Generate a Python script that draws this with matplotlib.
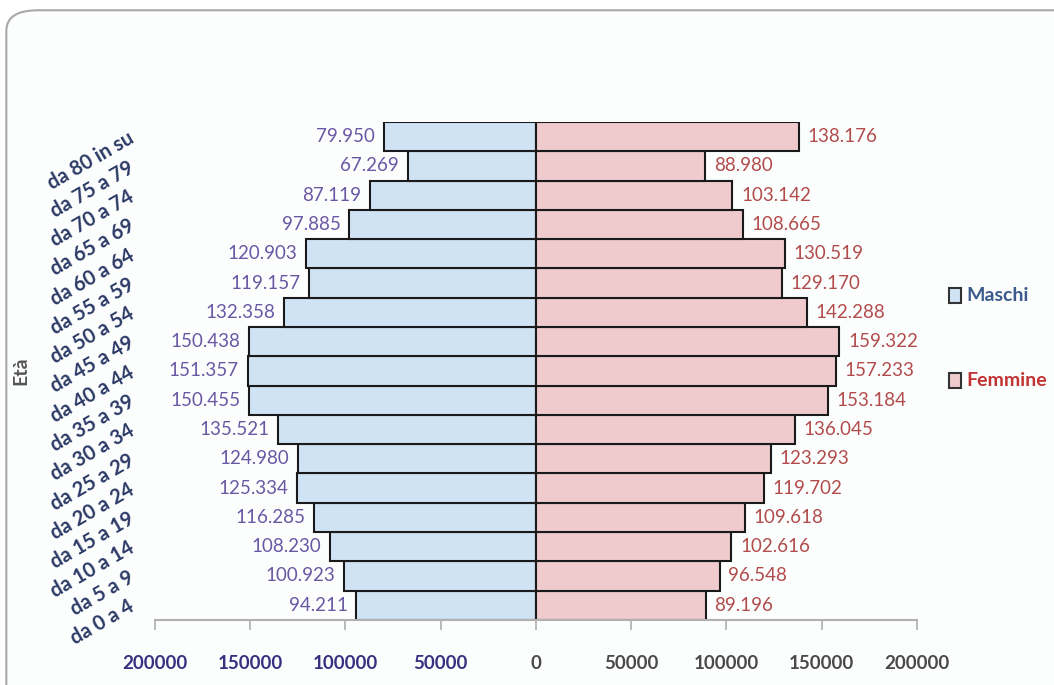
import matplotlib.pyplot as plt
from matplotlib.patches import FancyBboxPatch, Rectangle

# piramide delle età, maschi a sinistra e femmine a destra

plt.rcParams['font.family'] = ['Lato', 'DejaVu Sans']

eta = ["da 0 a 4", "da 5 a 9", "da 10 a 14", "da 15 a 19", "da 20 a 24",
       "da 25 a 29", "da 30 a 34", "da 35 a 39", "da 40 a 44", "da 45 a 49",
       "da 50 a 54", "da 55 a 59", "da 60 a 64", "da 65 a 69", "da 70 a 74",
       "da 75 a 79", "da 80 in su"]
maschi = [94211, 100923, 108230, 116285, 125334, 124980, 135521, 150455, 151357,
          150438, 132358, 119157, 120903, 97885, 87119, 67269, 79950]
femmine = [89196, 96548, 102616, 109618, 119702, 123293, 136045, 153184, 157233,
           159322, 142288, 129170, 130519, 108665, 103142, 88980, 138176]
tick_valori = [-200000, -150000, -100000, -50000, 0, 50000, 100000, 150000, 200000]
tick_testi = ["200000", "150000", "100000", "50000", "0", "50000", "100000", "150000", "200000"]

col_m = "#d0e3f5"
col_f = "#f0cbcd"
testo_m = "#6a58a4"
testo_f = "#b24c4c"


def fmt(v):
    return f"{v:,}".replace(",", ".")


fig = plt.figure(figsize=(10.54, 6.85), dpi=100)
fig.patch.set_facecolor("white")

# cornice arrotondata
cornice = FancyBboxPatch((0.006, -0.05), 1.05, 1.035,
                         boxstyle="round,pad=0,rounding_size=0.03",
                         transform=fig.transFigure, facecolor="#fcfdfd",
                         edgecolor="#a8a8a8", linewidth=1.5, zorder=-5)
fig.patches.append(cornice)

ax = fig.add_axes([0.147, 0.095, 0.723, 0.727])
ax.set_facecolor("none")
ax.set_zorder(2)

y = list(range(len(eta)))
neg_m = [-v for v in maschi]
ax.barh(y, neg_m, height=1.0, color=col_m, edgecolor="#1a1a1a", linewidth=1.5)
ax.barh(y, femmine, height=1.0, color=col_f, edgecolor="#1a1a1a", linewidth=1.5)

for i in y:
    ax.text(-maschi[i] - 4500, i, fmt(maschi[i]), ha="right", va="center",
            color=testo_m, fontsize=13.5)
    ax.text(femmine[i] + 4500, i, fmt(femmine[i]), ha="left", va="center",
            color=testo_f, fontsize=13.5)

ax.set_xlim(-200000, 200000)
ax.set_ylim(-0.5, len(eta) - 0.5)

ax.set_xticks(tick_valori)
ax.set_xticklabels(tick_testi, fontsize=13.5, fontweight="bold")
for i, lab in enumerate(ax.get_xticklabels()):
    lab.set_color("#3a2f80" if i < 4 else "#4a4a4a")
ax.tick_params(axis="x", length=7, width=1.2, color="#b0b0b0", pad=18)

ax.set_yticks(y)
ax.set_yticklabels(eta, fontsize=14.5, fontweight="bold", color="#2c3a66",
                   rotation=30, ha="right", va="center", rotation_mode="anchor")
ax.tick_params(axis="y", length=0, pad=16)

for s in ["top", "right", "left"]:
    ax.spines[s].set_visible(False)
ax.spines["bottom"].set_color("#b0b0b0")
ax.spines["bottom"].set_linewidth(1.5)

ax.set_ylabel("Età", fontsize=14, fontweight="bold", color="#555555")
ax.yaxis.set_label_coords(-0.165, 0.5)

# legenda manuale
for yy, nome, col, fill in [(0.568, "Maschi", "#3c5a8c", col_m),
                            (0.445, "Femmine", "#c03434", col_f)]:
    fig.patches.append(Rectangle((0.900, yy - 0.011), 0.0115, 0.022,
                                 transform=fig.transFigure, facecolor=fill,
                                 edgecolor="#333333", linewidth=1.5, zorder=3))
    fig.text(0.917, yy, nome, fontsize=14, color=col, va="center", ha="left",
             fontweight="bold")

plt.savefig("out.png", dpi=100)
